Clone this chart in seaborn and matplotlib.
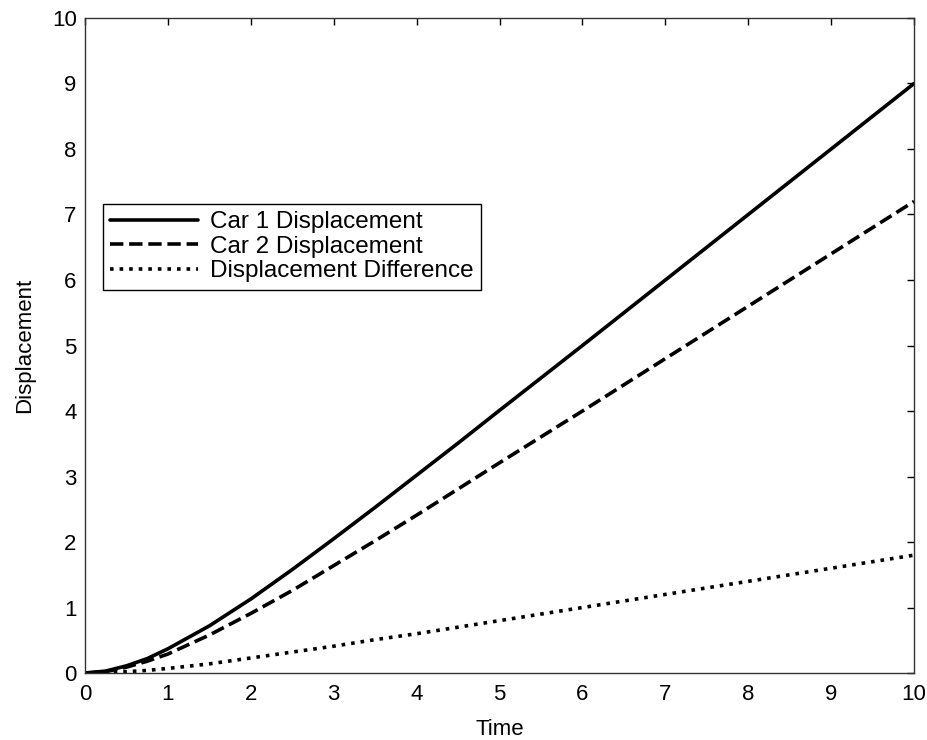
import matplotlib
matplotlib.use("Agg")
import matplotlib.pyplot as plt
import seaborn as sns
import pandas as pd

# values
time = [0, 0.25, 0.5, 0.75, 1, 1.5, 2, 2.5, 3, 3.5, 4, 4.5, 5, 6, 7, 8, 9, 10]
car1 = [0, 0.03, 0.11, 0.22, 0.37, 0.72, 1.13, 1.58, 2.05, 2.53, 3.02, 3.51, 4.01,
        5.0, 6.0, 7.0, 8.0, 9.0]
car2 = [0, 0.02, 0.09, 0.18, 0.29, 0.58, 0.91, 1.26, 1.64, 2.02, 2.41, 2.81, 3.21,
        4.0, 4.8, 5.6, 6.4, 7.2]
diff = [0, 0.01, 0.02, 0.04, 0.07, 0.14, 0.23, 0.32, 0.41, 0.51, 0.60, 0.70, 0.80,
        1.0, 1.2, 1.4, 1.6, 1.8]

labels = ["Car 1 Displacement", "Car 2 Displacement", "Displacement Difference"]
styles = ["-", "--", ":"]

sns.set_style("white")
plt.rcParams["font.family"] = ["Liberation Sans", "DejaVu Sans"]
plt.rcParams["text.color"] = "black"

df = pd.DataFrame({"Time": time, labels[0]: car1, labels[1]: car2, labels[2]: diff})
long = df.melt(id_vars="Time", var_name="series", value_name="Displacement")

fig = plt.figure(figsize=(9.28, 7.4), dpi=100)
ax = fig.add_axes([0.0916, 0.0905, 0.8934, 0.8852])

for lbl, ls in zip(labels, styles):
    sub = long[long["series"] == lbl]
    sns.lineplot(data=sub, x="Time", y="Displacement", ax=ax, color="black",
                 linestyle=ls, linewidth=2.6, label=lbl)

ax.set_xlim(0, 10)
ax.set_ylim(0, 10)
ax.set_xticks(range(0, 11))
ax.set_yticks(range(0, 11))
ax.tick_params(direction="in", length=5, width=1, top=True, right=True,
               labelsize=16, colors="black")
ax.tick_params(axis="x", pad=8)
ax.tick_params(axis="y", pad=6)
for sp in ax.spines.values():
    sp.set_color("#333333")
    sp.set_linewidth(1)
ax.set_xlabel("Time", fontsize=16, labelpad=10, color="black")
ax.set_ylabel("Displacement", fontsize=16, labelpad=12, color="black")

leg = ax.legend(loc="upper left", bbox_to_anchor=(0.0217, 0.716), fontsize=17.5,
                frameon=True, fancybox=False, framealpha=1, edgecolor="black",
                handlelength=3.6, borderpad=0.3, labelspacing=0.1,
                handletextpad=0.5, borderaxespad=0)
leg.get_frame().set_linewidth(1)

fig.savefig("out.png", dpi=100)
